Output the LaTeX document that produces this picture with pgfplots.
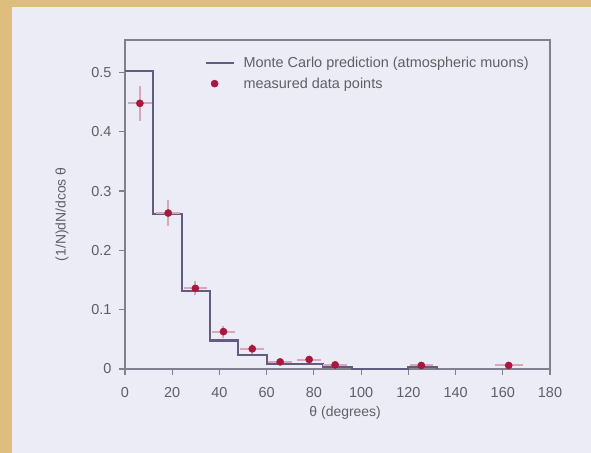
\documentclass[border=0pt]{standalone}
\usepackage{pgfplots}
\pgfplotsset{compat=1.18}
\usepackage{fontspec}
\setmainfont{Liberation Sans}
\definecolor{tanbg}{RGB}{222,190,125}
\definecolor{panel}{RGB}{236,236,246}
\definecolor{axcol}{RGB}{128,128,142}
\definecolor{stepcol}{RGB}{100,92,128}
\definecolor{txtcol}{RGB}{95,95,102}
\definecolor{markcol}{RGB}{170,22,62}
\definecolor{errcol}{RGB}{214,168,186}
\begin{document}
\begin{tikzpicture}
\useasboundingbox (-125bp,-84bp) rectangle (466bp,369bp);
\fill[tanbg] (-125bp,-84bp) rectangle (466bp,369bp);
\fill[panel] (-113bp,-84bp) rectangle (466bp,362bp);
\begin{axis}[
  scale only axis,
  width=425bp, height=329bp,
  at={(0,0)}, anchor=south west,
  xmin=0, xmax=180, ymin=0, ymax=0.5548,
  clip=false,
  axis line style={axcol, line width=1.8bp},
  tick style={axcol, line width=1.2bp},
  tick align=outside,
  major tick length=6bp,
  tick pos=left,
  xtick={0,20,...,180},
  ytick={0,0.1,0.2,0.3,0.4,0.5},
  yticklabels={0,0.1,0.2,0.3,0.4,0.5},
  xticklabels={0,20,40,60,80,100,120,140,160,180},
  /pgf/number format/assume math mode=true,
  tick label style={font=\fontsize{14.5}{17}\selectfont, text=txtcol},
  yticklabel style={xshift=-4bp},
  xticklabel style={yshift=-9bp},
  xlabel={θ (degrees)},
  ylabel={(1/N)dN/dcos θ},
  label style={font=\fontsize{14}{17}\selectfont, text=txtcol},
  xlabel style={at={(rel axis cs:0.518,0)}, anchor=center, yshift=-44bp},
  ylabel style={at={(rel axis cs:0,0.47)}, anchor=center, yshift=63bp},
  legend style={draw=none, fill=none, at={(rel axis cs:0.188,0.9635)}, anchor=north west,
    inner sep=0pt, row sep=0pt, font=\fontsize{14.5}{17}\selectfont, text=txtcol,
    nodes={inner sep=4.5bp},
    /tikz/every odd column/.style={column sep=4bp}},
  legend cell align=left,
]
\addplot[const plot, color=stepcol, line width=2.2bp,
  legend image code/.code={\draw[stepcol, line width=2bp] (0bp,0bp) -- (28bp,0bp);}]
  coordinates {(0,0.503) (12,0.262) (24,0.132) (36,0.048) (48,0.023) (60,0.009) (72,0.009) (84,0.004) (96,0) (120,0.004) (132,0)};
\addlegendentry{Monte Carlo prediction (atmospheric muons)}
\addplot[only marks, mark=*, mark size=3.6bp, color=markcol,
  error bars/.cd, x dir=both, y dir=both, x explicit, y explicit,
  error mark=none, error bar style={color=errcol, line width=2bp},
  ]
  table[x=x, y=y, x error=ex, y error=ey] {
x y ex ey
6.3 0.448 5 0.029
18.3 0.263 5 0.022
29.8 0.136 5 0.012
41.7 0.063 5 0.010
53.9 0.034 5 0.008
65.7 0.012 5 0.005
78.0 0.016 5 0.006
89.0 0.007 5 0.004
125.5 0.006 5 0.004
162.5 0.006 6 0.004
};
\addlegendentry{measured data points}
\end{axis}
\end{tikzpicture}
\end{document}
